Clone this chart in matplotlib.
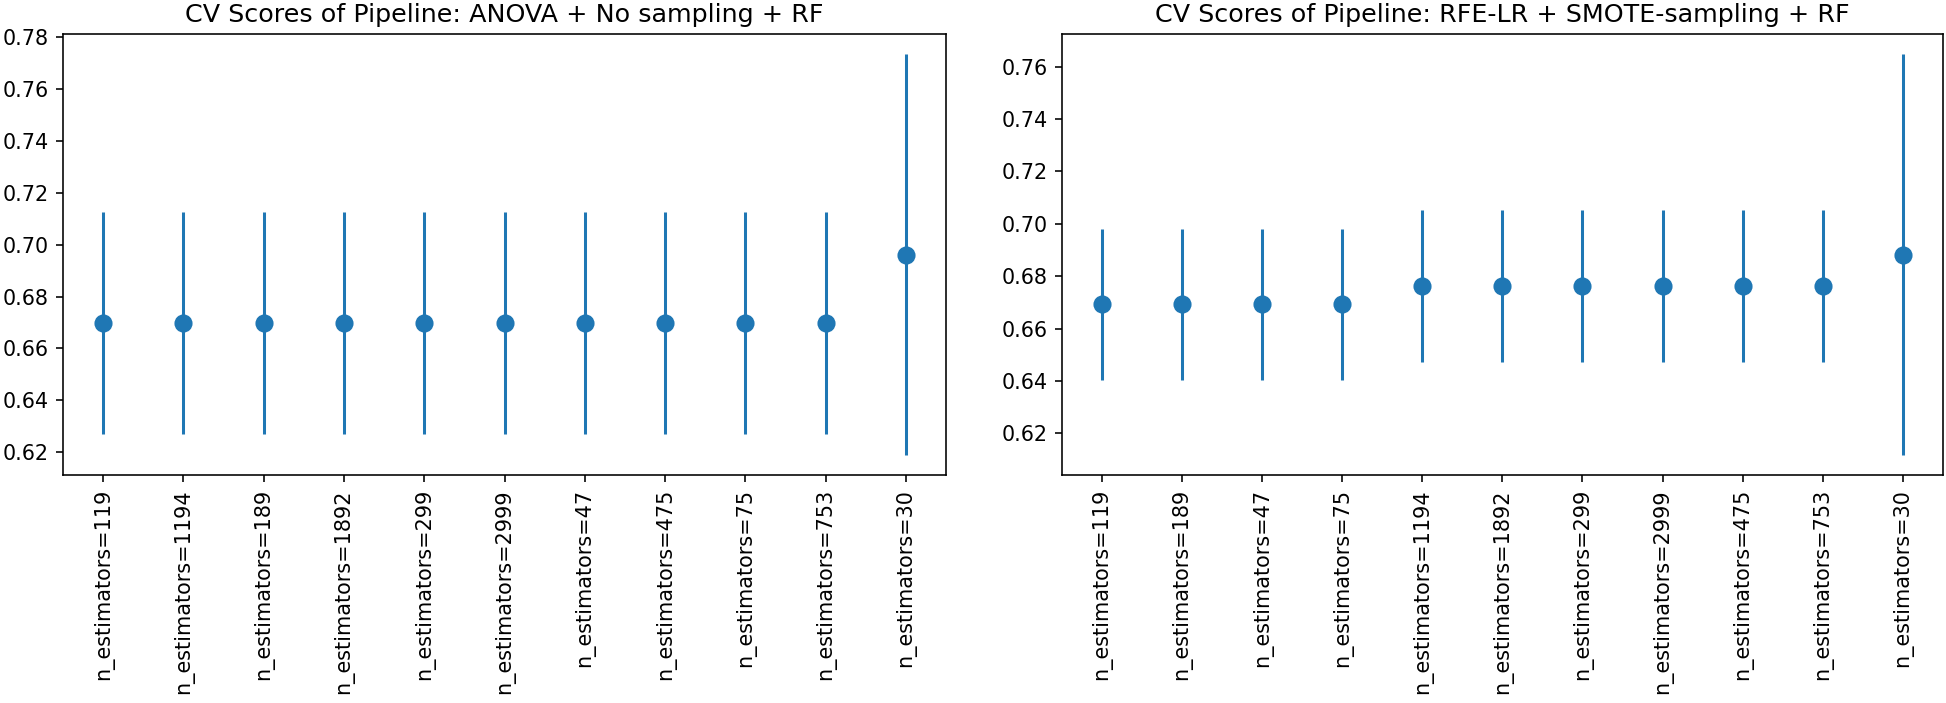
import matplotlib
matplotlib.use("Agg")
import matplotlib.pyplot as plt
import numpy as np

# Left panel data
left_labels = ["n_estimators=119", "n_estimators=1194", "n_estimators=189", "n_estimators=1892",
               "n_estimators=299", "n_estimators=2999", "n_estimators=47", "n_estimators=475",
               "n_estimators=75", "n_estimators=753", "n_estimators=30"]
left_means = [0.6697, 0.6697, 0.6697, 0.6697, 0.6697, 0.6697, 0.6697, 0.6697, 0.6697, 0.6697, 0.6962]
left_errs = [0.0428, 0.0428, 0.0428, 0.0428, 0.0428, 0.0428, 0.0428, 0.0428, 0.0428, 0.0428, 0.0773]

# Right panel data
right_labels = ["n_estimators=119", "n_estimators=189", "n_estimators=47", "n_estimators=75",
                "n_estimators=1194", "n_estimators=1892", "n_estimators=299", "n_estimators=2999",
                "n_estimators=475", "n_estimators=753", "n_estimators=30"]
right_means = [0.6693, 0.6693, 0.6693, 0.6693, 0.6764, 0.6764, 0.6764, 0.6764, 0.6764, 0.6764, 0.6883]
right_errs = [0.0289, 0.0289, 0.0289, 0.0289, 0.0290, 0.0290, 0.0290, 0.0290, 0.0290, 0.0290, 0.0765]

left_title = "CV Scores of Pipeline: ANOVA + No sampling + RF"
right_title = "CV Scores of Pipeline: RFE-LR + SMOTE-sampling + RF"

DPI = 145
fig = plt.figure(figsize=(1946 / DPI, 703 / DPI), dpi=DPI)
ax1 = fig.add_axes([0.0324, 0.3243, 0.4538, 0.6273])
ax2 = fig.add_axes([0.5457, 0.3243, 0.4527, 0.6273])

for ax, labels, means, errs, title in [
    (ax1, left_labels, left_means, left_errs, left_title),
    (ax2, right_labels, right_means, right_errs, right_title),
]:
    x = np.arange(len(labels))
    ax.errorbar(x, means, yerr=errs, fmt='o', color='#1f77b4', markersize=8, elinewidth=1.5)
    ax.set_xticks(x)
    ax.set_xticklabels(labels, rotation=90, fontsize=10.3)
    ax.tick_params(axis='y', labelsize=10.3)
    ax.set_title(title, fontsize=12.6)

fig.savefig("out.png", dpi=DPI)
